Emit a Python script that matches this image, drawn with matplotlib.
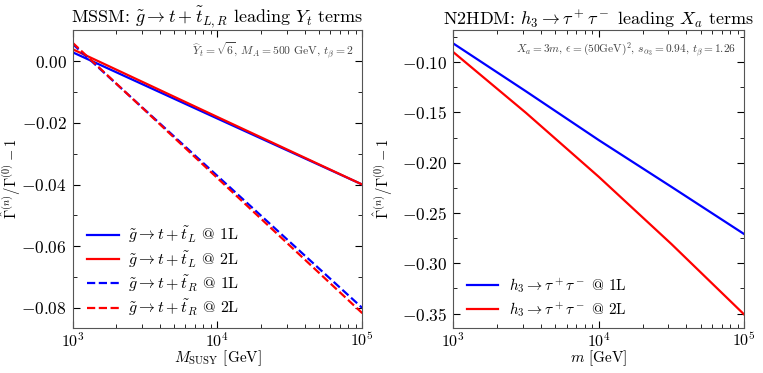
import numpy as np
import matplotlib
matplotlib.use("Agg")
import matplotlib.pyplot as plt
from matplotlib.ticker import MultipleLocator, LogLocator, NullFormatter, FuncFormatter

plt.rcParams['font.family'] = ['cmr10', 'DejaVu Serif']
plt.rcParams['mathtext.fontset'] = 'cm'
plt.rcParams['axes.formatter.use_mathtext'] = True
plt.rcParams['axes.unicode_minus'] = True

# ---- data ----
m_mssm = [1e3, 1e4, 1e5]
# MSSM panel
L_1L = [0.0029, -0.0186, -0.0400]
L_2L = [0.0039, -0.0181, -0.0400]
R_1L = [0.0056, -0.0372, -0.0800]
R_2L = [0.0060, -0.0379, -0.0817]
# N2HDM panel
m_n2hdm = [1e3, 3.16e3, 1e4, 3.16e4, 1e5]
h3_1L = [-0.0814, -0.1290, -0.1775, -0.2240, -0.2710]
h3_2L = [-0.0900, -0.1504, -0.2140, -0.2809, -0.3510]

fig = plt.figure(figsize=(7.63, 3.73), dpi=100)
W, H = 763, 373
def pos(x0, x1, y0, y1):
    return [x0 / W, 1 - y1 / H, (x1 - x0) / W, (y1 - y0) / H]

ax1 = fig.add_axes(pos(72.5, 362.3, 30, 327.7))
ax2 = fig.add_axes(pos(453.3, 744.3, 30, 327.7))

lw = 1.6
ax1.plot(m_mssm, L_1L, color='blue', lw=lw, label=r'$\tilde{g}\to t+\tilde{t}_L$ @ 1L')
ax1.plot(m_mssm, L_2L, color='red', lw=lw, label=r'$\tilde{g}\to t+\tilde{t}_L$ @ 2L')
ax1.plot(m_mssm, R_1L, color='blue', lw=lw, ls='--', label=r'$\tilde{g}\to t+\tilde{t}_R$ @ 1L')
ax1.plot(m_mssm, R_2L, color='red', lw=lw, ls='--', label=r'$\tilde{g}\to t+\tilde{t}_R$ @ 2L')

ax2.plot(m_n2hdm, h3_1L, color='blue', lw=lw, label=r'$h_3\to\tau^+\tau^-$ @ 1L')
ax2.plot(m_n2hdm, h3_2L, color='red', lw=lw, label=r'$h_3\to\tau^+\tau^-$ @ 2L')

ylab = r'$\hat{\Gamma}^{(n)}/\Gamma^{(0)}-1$'
for ax in (ax1, ax2):
    ax.set_xscale('log')
    ax.set_xlim(1e3, 1e5)
    ax.tick_params(which='both', direction='in', top=True, right=True)
    ax.tick_params(axis='x', labelsize=11.5)
    ax.tick_params(axis='y', labelsize=12.5)
    ax.tick_params(which='major', length=5)
    ax.tick_params(which='minor', length=3)
    ax.tick_params(axis='x', which='major', pad=2.5)
    ax.tick_params(axis='y', which='major', pad=4)
    ax.xaxis.set_minor_locator(LogLocator(base=10, subs=np.arange(2, 10)))
    ax.xaxis.set_minor_formatter(NullFormatter())
    ax.set_ylabel(ylab, fontsize=10.5)
    for s in ax.spines.values():
        s.set_color('#555555')

ax1.yaxis.set_label_coords(-0.171, 0.5)
ax2.yaxis.set_label_coords(-0.200, 0.5)

ax1.legend(loc='lower left', frameon=False, fontsize=11.5, handlelength=2.0,
           handletextpad=0.55, labelspacing=0.22, borderaxespad=0.2,
           bbox_to_anchor=(0.017, 0.0))
ax2.legend(loc='lower left', frameon=False, fontsize=11, handlelength=2.0,
           handletextpad=0.75, labelspacing=0.3, borderaxespad=0.2,
           bbox_to_anchor=(0.016, 0.0))

ax1.set_ylim(-0.0864, 0.0101)
ax1.yaxis.set_major_locator(MultipleLocator(0.02))
ax1.yaxis.set_minor_locator(MultipleLocator(0.01))
ax1.yaxis.set_major_formatter(FuncFormatter(lambda v, p: r'$%.2f$' % v if abs(v) > 1e-9 else r'$0.00$'))
ax1.set_xlabel(r'$M_{\rm SUSY}$ [GeV]', fontsize=11)
ax1.xaxis.set_label_coords(0.5, -0.07)
ax1.set_title(r'MSSM: $\tilde{g}\to t+\tilde{t}_{L,R}$ leading $Y_t$ terms', fontsize=13, pad=4)
ax1.text(0.97, 0.965, r'$\widehat{Y}_t=\sqrt{6},\,M_A=500$ GeV, $t_\beta=2$',
         transform=ax1.transAxes, ha='right', va='top', fontsize=8.4, color='#444444')

ax2.set_ylim(-0.364, -0.068)
ax2.yaxis.set_major_locator(MultipleLocator(0.05))
ax2.yaxis.set_minor_locator(MultipleLocator(0.025))
ax2.yaxis.set_major_formatter(FuncFormatter(lambda v, p: r'$%.2f$' % v))
ax2.set_xlabel(r'$m$ [GeV]', fontsize=11)
ax2.xaxis.set_label_coords(0.5, -0.07)
ax2.set_title(r'N2HDM: $h_3\to\tau^+\tau^-$ leading $X_a$ terms', fontsize=13, pad=4)
ax2.text(0.97, 0.965, r'$X_a=3m,\,\epsilon=(50{\rm GeV})^2,\,s_{\alpha_3}=0.94,\,t_\beta=1.26$',
         transform=ax2.transAxes, ha='right', va='top', fontsize=8.2, color='#444444')

fig.savefig('out.png', dpi=100)
